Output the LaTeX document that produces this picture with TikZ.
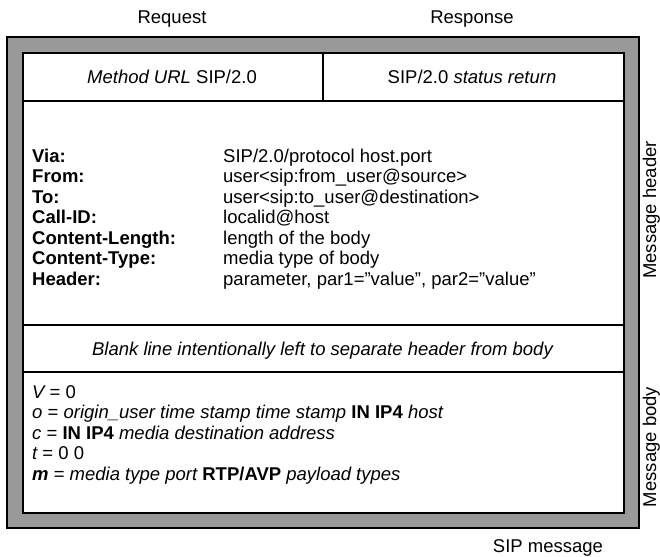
\documentclass[tikz,border=0pt]{standalone}
\usepackage{fontspec}
\setmainfont{Liberation Sans}
\usepackage{tikz}
\usepackage{xcolor}
\definecolor{framegray}{gray}{0.6}

\begin{document}
\begin{tikzpicture}[x=1pt,y=-1pt,
  txt/.style={inner sep=0pt,anchor=base,font=\fontsize{18.5}{21}\selectfont},
  lbl/.style={txt,anchor=base west}]
\useasboundingbox (0,0) rectangle (660,556);
% outer grey frame and white sheet
\fill[framegray] (7,37) rectangle (639,528);
\draw[line width=1.5pt] (7,37) rectangle (639,528);
\fill[white] (23,53) rectangle (624,513);
\draw[line width=1.2pt] (23,53) rectangle (624,513);
\draw[line width=1.2pt] (23,101) -- (624,101);
\draw[line width=1.2pt] (323,53) -- (323,101);
\draw[line width=1.2pt] (23,325) -- (624,325);
\draw[line width=1.2pt] (23,372) -- (624,372);
% column titles
\node[txt] (req) at (172,24) {Request};
\node[txt] (resp) at (472,24) {Response};
\node[txt] (startreq) at (172,83.5) {\itshape Method URL \upshape SIP/2.0};
\node[txt] (startresp) at (472,83.5) {SIP/2.0 \itshape status return};
% header fields
\node[lbl] (via) at (32,162) {\bfseries Via:};
\node[lbl] (viaval) at (223,162) {SIP/2.0/protocol host.port};
\node[lbl] (from) at (32,182.5) {\bfseries From:};
\node[lbl] (fromval) at (223,182.5) {user<sip:from\_user@source>};
\node[lbl] (to) at (32,203) {\bfseries To:};
\node[lbl] (toval) at (223,203) {user<sip:to\_user@destination>};
\node[lbl] (callid) at (32,223.5) {\bfseries Call-ID:};
\node[lbl] (callidval) at (223,223.5) {localid@host};
\node[lbl] (clen) at (32,244) {\bfseries Content-Length:};
\node[lbl] (clenval) at (223,244) {length of the body};
\node[lbl] (ctype) at (32,264.5) {\bfseries Content-Type:};
\node[lbl] (ctypeval) at (223,264.5) {media type of body};
\node[lbl] (hdr) at (32,285) {\bfseries Header:};
\node[lbl] (hdrval) at (223,285) {parameter, par1="value", par2="value"};
% separator line
\node[txt] (blank) at (322.5,355) {\itshape Blank line intentionally left to separate header from body};
% body lines
\node[lbl] (vline) at (32,398) {\itshape V\upshape\ = 0};
\node[lbl] (oline) at (32,418.5) {\itshape o \upshape= \itshape origin\_user time stamp time stamp \upshape\bfseries IN IP4 \mdseries\itshape host};
\node[lbl] (cline) at (32,439) {\itshape c \upshape= \bfseries IN IP4 \mdseries\itshape media destination address};
\node[lbl] (tline) at (32,459.5) {\itshape t\upshape\ = 0 0};
\node[lbl] (mline) at (32,480) {\bfseries\itshape m \mdseries\upshape= \itshape media type port \upshape\bfseries RTP/AVP \mdseries\itshape payload types};
% side and bottom labels
\node[txt,rotate=90] (msghdr) at (656,210) {Message header};
\node[txt,rotate=90] (msgbody) at (656,447) {Message body};
\node[txt] (sipmsg) at (548,552) {SIP message};
\end{tikzpicture}
\end{document}
